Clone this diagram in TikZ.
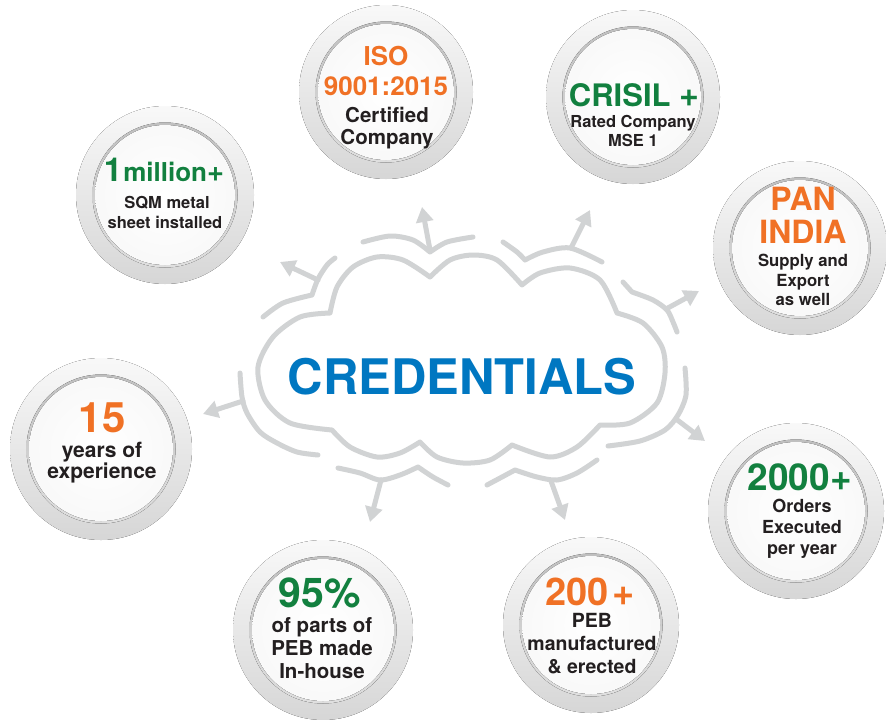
\documentclass[tikz,border=0pt]{standalone}
\usepackage{fontspec}
\setmainfont{TeX Gyre Heros}
\usetikzlibrary{arrows.meta}
\definecolor{cloudgray}{HTML}{D1D3D4}
\definecolor{org}{HTML}{F07125}
\definecolor{grn}{HTML}{12803F}
\definecolor{blu}{HTML}{0077C1}
\definecolor{ink}{HTML}{231F20}
\newcommand\fsz[1]{\fontsize{#1}{#1}\selectfont}
\newcommand\badgering[3]{%
  \fill[top color=gray!5, bottom color=gray!32] (#1,#2) circle[radius=#3];
  \fill[top color=gray!50, bottom color=gray!25] (#1,#2) circle[radius=#3-16.5];
  \fill[inner color=white, outer color=gray!5] (#1,#2) circle[radius=#3-19];
}
\begin{document}
\begin{tikzpicture}[x=1pt,y=-1pt,
  cl/.style={draw=cloudgray, line width=5pt, line cap=round, line join=round},
  arr/.style={cl, -{Triangle[length=15pt,width=17pt]}},
  txt/.style={anchor=base, inner sep=0pt, font=\bfseries, text=ink},
  otxt/.style={txt, text=org},
  gtxt/.style={txt, text=grn}]
\useasboundingbox (0,0) rectangle (886,720);
\fill[white] (0,0) rectangle (886,720);

% badges
\badgering{386}{92}{87}
\badgering{633}{97}{87}
\badgering{165}{195}{89}
\badgering{800}{248}{87}
\badgering{101}{449}{91}
\badgering{796}{511}{88}
\badgering{323}{630}{90}
\badgering{591}{625}{88}

% inner cloud
\draw[cl] plot[smooth] coordinates {(332,430) (290,423) (265,400) (258,367) (273,337) (300,317) (330,313)}
  plot[smooth] coordinates {(330,313) (337,287) (353,267) (377,257) (403,260) (430,277)}
  plot[smooth] coordinates {(430,277) (450,260) (473,255) (497,260) (522,285)}
  plot[smooth] coordinates {(522,285) (540,273) (570,268) (600,280) (617,313)}
  plot[smooth] coordinates {(617,313) (643,323) (662,347) (665,373) (657,403) (630,423) (600,425)}
  plot[smooth] coordinates {(600,425) (577,447) (550,457) (512,445)}
  plot[smooth] coordinates {(512,445) (490,460) (463,463) (437,457) (420,442)}
  plot[smooth] coordinates {(420,442) (400,453) (377,457) (350,447) (332,430)};

% outer broken arcs
\draw[cl] plot[smooth] coordinates {(263,317) (283,303) (312,295)}
  plot[smooth] coordinates {(312,295) (318,279) (327,265) (335,258)};
\draw[cl] plot[smooth] coordinates {(363,242) (390,236) (413,240) (430,252)}
  plot[smooth] coordinates {(430,252) (447,242) (473,237)};
\draw[cl] plot[smooth] coordinates {(503,242) (517,252) (525,260)}
  plot[smooth] coordinates {(525,260) (543,252) (570,248) (602,262)};
\draw[cl] plot[smooth] coordinates {(623,282) (632,292)}
  plot[smooth] coordinates {(632,292) (653,300) (667,310) (673,322) (677,332)};
\draw[cl] plot[smooth] coordinates {(685,368) (686,395) (678,415) (665,430) (640,441) (608,446)};
\draw[cl] plot[smooth] coordinates {(338,468) (360,473) (380,480) (400,475) (418,467)}
  plot[smooth] coordinates {(418,467) (433,477) (448,485)};
\draw[cl] plot[smooth] coordinates {(487,485) (502,477) (515,470)}
  plot[smooth] coordinates {(515,470) (537,477) (557,480) (577,473) (597,460)};
\draw[cl] plot[smooth] coordinates {(240,373) (242,397) (247,413) (260,432) (277,443) (297,452) (318,455)};

% arrows
\coordinate (s1) at (318,280); \coordinate (t1) at (280,262);
\coordinate (s2) at (430,250); \coordinate (t2) at (422,207);
\coordinate (s3) at (571,248); \coordinate (t3) at (590,210);
\coordinate (s4) at (666,309); \coordinate (t4) at (699,291);
\coordinate (s5) at (676,419); \coordinate (t5) at (705,441);
\coordinate (s6) at (551,481); \coordinate (t6) at (565,520);
\coordinate (s7) at (381,480); \coordinate (t7) at (370,522);
\coordinate (s8) at (243,401); \coordinate (t8) at (203,414);
\foreach \i in {1,...,8} \draw[arr] (s\i) -- (t\i);

% center title
\node[inner sep=0pt, font=\bfseries\fsz{49}, text=blu] (title) at (462,377) {CREDENTIALS};

% ISO
\node[otxt, font=\bfseries\fsz{26}] (iso1) at (386,65) {ISO};
\node[otxt, font=\bfseries\fsz{26}] (iso2) at (386,95) {9001:2015};
\node[txt, font=\bfseries\fsz{20.5}] (iso3) at (387,122) {Certified};
\node[txt, font=\bfseries\fsz{20.5}] (iso4) at (387,144) {Company};

% CRISIL
\node[gtxt, font=\bfseries\fsz{31}] (cr1) at (634,106) {CRISIL {\fsz{34}+}};
\node[txt, font=\bfseries\fsz{16.5}] (cr2) at (633,127) {Rated Company};
\node[txt, font=\bfseries\fsz{16.5}] (cr3) at (633,146) {MSE 1};

% 1 million
\node[gtxt] (mi1) at (164,181) {{\fsz{33}1}\kern1pt{\fsz{26}million{\fsz{29}+}}};
\node[txt, font=\bfseries\fsz{16.5}] (mi2) at (167,208) {SQM metal};
\node[txt, font=\bfseries\fsz{16.5}] (mi3) at (165,228) {sheet installed};

% PAN INDIA
\node[otxt, font=\bfseries\fsz{32}] (pa1) at (803,210) {PAN};
\node[otxt, font=\bfseries\fsz{32}] (pa2) at (803,243) {INDIA};
\node[txt, font=\bfseries\fsz{16.7}] (pa3) at (803,266) {Supply and};
\node[txt, font=\bfseries\fsz{16.7}] (pa4) at (803,286) {Export};
\node[txt, font=\bfseries\fsz{16.7}] (pa5) at (803,305) {as well};

% 15 years
\node[otxt, font=\bfseries\fsz{42}] (ye1) at (102,432) {15};
\node[txt, font=\bfseries\fsz{21}] (ye2) at (102,457) {years of};
\node[txt, font=\bfseries\fsz{21}] (ye3) at (102,478) {experience};

% 2000+
\node[gtxt, font=\bfseries\fsz{37}] (or1) at (800,490) {2000\kern1pt+};
\node[txt, font=\bfseries\fsz{18}] (or2) at (802,512) {Orders};
\node[txt, font=\bfseries\fsz{18}] (or3) at (802,533) {Executed};
\node[txt, font=\bfseries\fsz{18}] (or4) at (802,554) {per year};

% 95%
\node[gtxt, font=\bfseries\fsz{41}] (pc1) at (320,607) {95\%};
\node[txt, font=\bfseries\fsz{20.5}] (pc2) at (322,632) {of parts of};
\node[txt, font=\bfseries\fsz{20.5}] (pc3) at (322,655) {PEB made};
\node[txt, font=\bfseries\fsz{20.5}] (pc4) at (322,678) {In-house};

% 200+
\node[otxt, font=\bfseries\fsz{38}] (pe1) at (590,605) {200\kern3pt+};
\node[txt, font=\bfseries\fsz{19.5}] (pe2) at (592,627) {PEB};
\node[txt, font=\bfseries\fsz{19.5}] (pe3) at (592,650) {manufactured};
\node[txt, font=\bfseries\fsz{19.5}] (pe4) at (592,673) {\& erected};
\end{tikzpicture}
\end{document}
